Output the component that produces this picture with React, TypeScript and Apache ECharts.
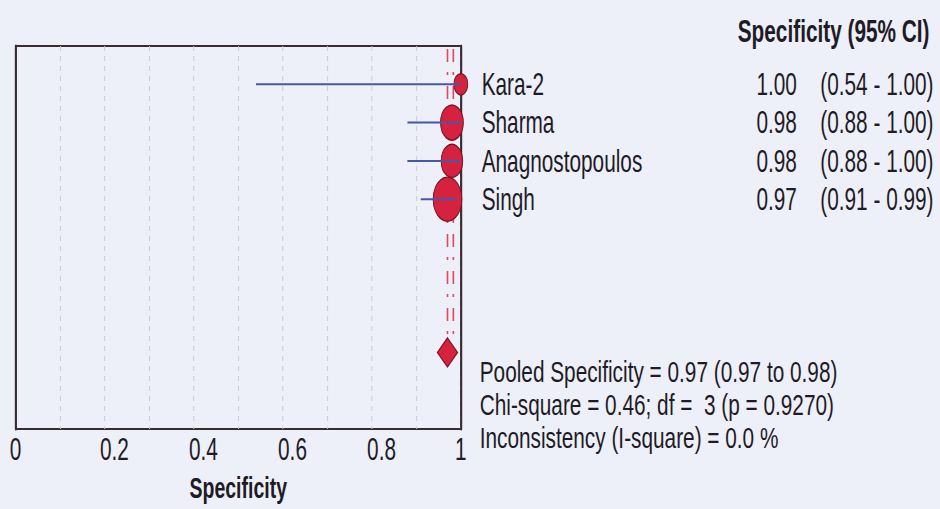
import React, { useEffect, useRef } from 'react';
import * as echarts from 'echarts';

// ---- data ----
const STUDIES = ['Kara-2', 'Sharma', 'Anagnostopoulos', 'Singh'];
const SPECIFICITY = [1.0, 0.98, 0.98, 0.97];
const CI_LOW = [0.54, 0.88, 0.88, 0.91];
const CI_HIGH = [1.0, 1.0, 1.0, 0.99];
const WEIGHT_PCT = [9.4, 26.1, 23.2, 41.3];
const POOLED = 0.97;
const X_TICK_LABELS = ['0', '0.2', '0.4', '0.6', '0.8', '1'];
const AXIS_NAME = 'Specificity';
const TABLE_HEADER = 'Specificity (95% CI)';
const STATS_LINES = [
  'Pooled Specificity = 0.97 (0.97 to 0.98)',
  'Chi-square = 0.46; df =  3 (p = 0.9270)',
  'Inconsistency (I-square) = 0.0 %',
];

// ---- layout / style ----
const W = 940;
const H = 509;
const SX = 0.65; // the picture is horizontally compressed
const VW = Math.round(W / SX);
const BG = '#edf0f8';
const FONT = "'Liberation Sans', Arial, Helvetica, sans-serif";
const TXT = '#1f1b26';
const FRAME = '#3a2c33';
const RED = '#d6223f';
const RED_BORDER = '#7a1526';
const DASH_RED = '#e2485f';
const BLUE = '#4957a8';
const POOLED_ROW = 8;

const fmtCI = (lo: number, hi: number) => `(${lo.toFixed(2)} - ${hi.toFixed(2)})`;

export default function App() {
  const ref = useRef<HTMLDivElement>(null);

  useEffect(() => {
    if (!ref.current) return;
    const chart = echarts.init(ref.current, null, { renderer: 'svg' });

    const frameAxis = (position: string) => ({
      type: 'value',
      position,
      min: 0,
      max: 10,
      inverse: true,
      axisLine: { show: true, onZero: false, lineStyle: { color: FRAME, width: 3.2 } },
      axisTick: { show: false },
      axisLabel: { show: false },
      splitLine: { show: false },
    });

    const option: any = {
      animation: false,
      backgroundColor: BG,
      grid: {
        left: 24,
        top: 46,
        width: 685,
        height: 383,
        show: true,
        borderColor: FRAME,
        borderWidth: 2,
        backgroundColor: 'transparent',
      },
      xAxis: {
        type: 'value',
        min: 0,
        max: 1,
        interval: 0.1,
        axisLine: { show: false },
        axisTick: { show: false },
        axisLabel: {
          margin: 4,
          fontSize: 32,
          color: TXT,
          fontFamily: FONT,
          formatter: (v: number) => {
            const k = Math.round(v * 10);
            if (k % 2 !== 0) return '';
            const lbl = X_TICK_LABELS[k / 2];
            return k === 0 || k === 10 ? lbl : `{m|${lbl}}`;
          },
          rich: {
            m: { padding: [0, 0, 0, 30], fontSize: 32, color: TXT, fontFamily: FONT },
          },
        },
        splitLine: {
          show: true,
          lineStyle: { color: '#d4c6d2', type: [5, 5], width: 1.5 },
        },
        name: AXIS_NAME,
        nameLocation: 'middle',
        nameGap: 43,
        nameTextStyle: { fontSize: 30, fontWeight: 'bold', color: TXT, fontFamily: FONT },
      },
      yAxis: [frameAxis('left'), frameAxis('right')],
      series: [
        {
          type: 'custom',
          z: 1,
          silent: true,
          data: [[POOLED, 0, POOLED_ROW]],
          encode: { x: 0, y: [1, 2] },
          renderItem: (_p: any, api: any) => {
            const top = api.coord([api.value(0), api.value(1)]);
            const bot = api.coord([api.value(0), api.value(2)]);
            const y1 = top[1] + 3;
            const y2 = bot[1] - 16;
            const mk = (dx: number) => ({
              type: 'line',
              shape: { x1: top[0] + dx, y1, x2: top[0] + dx, y2 },
              style: { stroke: DASH_RED, lineWidth: 2.5, lineDash: [13, 10, 3, 11] },
            });
            return { type: 'group', children: [mk(0), mk(9)] };
          },
        },
        {
          type: 'scatter',
          z: 3,
          data: STUDIES.map((n, i) => ({
            name: n,
            value: [SPECIFICITY[i], i + 1],
            symbolSize: Math.sqrt(WEIGHT_PCT[i]) * 6.85,
          })),
          itemStyle: { color: RED, borderColor: RED_BORDER, borderWidth: 1.5, opacity: 1 },
        },
        {
          type: 'scatter',
          z: 3,
          symbol: 'diamond',
          symbolSize: [31, 29],
          data: [[POOLED, POOLED_ROW]],
          itemStyle: { color: RED, borderColor: RED_BORDER, borderWidth: 1.5, opacity: 1 },
        },
        {
          type: 'custom',
          z: 5,
          silent: true,
          data: STUDIES.map((_, i) => [CI_LOW[i], CI_HIGH[i], i + 1]),
          encode: { x: [0, 1], y: 2 },
          renderItem: (_p: any, api: any) => {
            const a = api.coord([api.value(0), api.value(2)]);
            const b = api.coord([api.value(1), api.value(2)]);
            return {
              type: 'line',
              shape: { x1: a[0], y1: a[1], x2: b[0], y2: b[1] },
              style: { stroke: BLUE, lineWidth: 2 },
            };
          },
        },
      ],
    };

    chart.setOption(option);

    const rowY = STUDIES.map(
      (_, i) => chart.convertToPixel({ xAxisIndex: 0, yAxisIndex: 0 }, [0, i + 1])[1]
    );
    const txt = (
      text: string,
      x: number,
      y: number,
      align: string,
      bold = false,
      size = 32,
      scaleX = 1
    ) => ({
      type: 'text',
      x,
      y,
      scaleX,
      silent: true,
      style: {
        text,
        fill: TXT,
        font: `${bold ? 'bold ' : ''}${size}px ${FONT}`,
        align,
        verticalAlign: 'middle',
      },
    });
    const graphic: any[] = [];
    graphic.push(txt(TABLE_HEADER, 1135, 31, 'left', true));
    STUDIES.forEach((n, i) => {
      graphic.push(txt(n, 741, rowY[i], 'left'));
      graphic.push(txt(SPECIFICITY[i].toFixed(2), 1226, rowY[i], 'right'));
      graphic.push(txt(fmtCI(CI_LOW[i], CI_HIGH[i]), 1262, rowY[i], 'left'));
    });
    const statY = [372, 405, 438];
    STATS_LINES.forEach((s, i) => graphic.push(txt(s, 738, statY[i], 'left', false, 30, 32 / 30)));
    chart.setOption({ graphic });

    return () => chart.dispose();
  }, []);

  return (
    <div
      style={{
        position: 'fixed',
        left: 0,
        top: 0,
        width: W,
        height: H,
        overflow: 'hidden',
        background: BG,
      }}
    >
      <div
        ref={ref}
        style={{ width: VW, height: H, transform: `scaleX(${SX})`, transformOrigin: '0 0' }}
      />
    </div>
  );
}
